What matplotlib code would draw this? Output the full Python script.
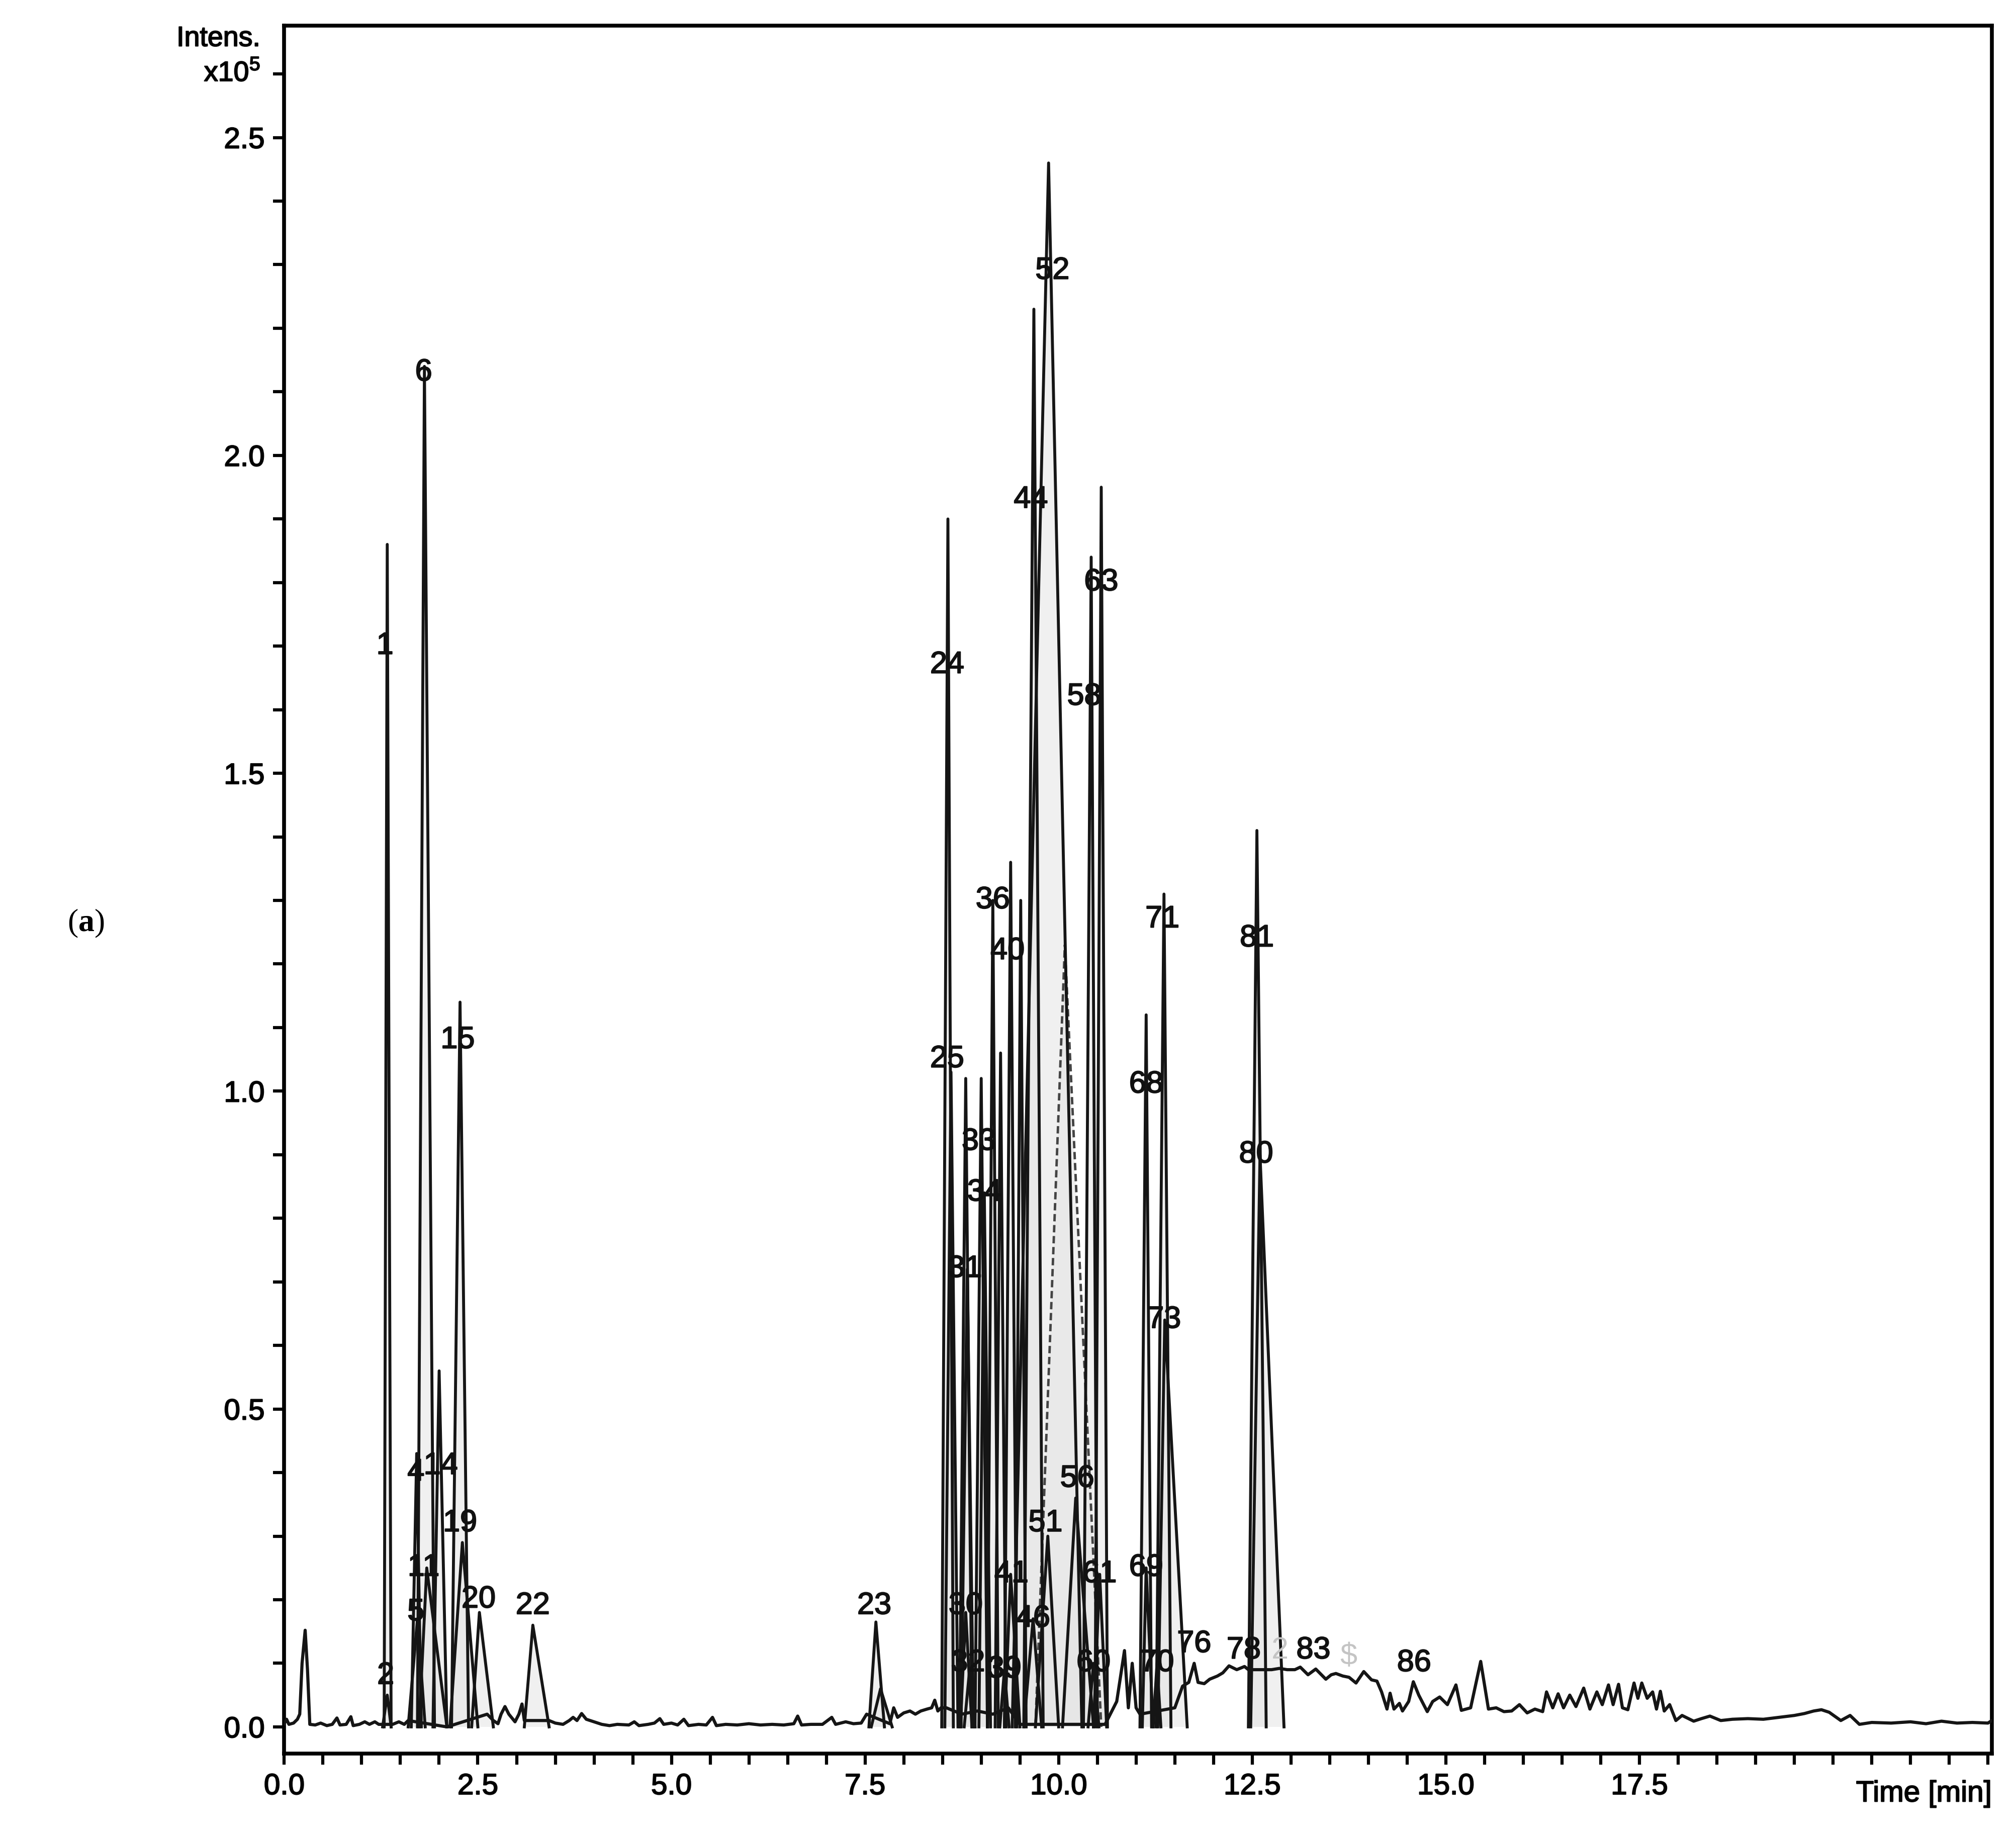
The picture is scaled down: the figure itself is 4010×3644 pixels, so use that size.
import matplotlib
matplotlib.use("Agg")
import matplotlib.pyplot as plt
from matplotlib.ticker import MultipleLocator, FuncFormatter
import matplotlib.transforms as mtransforms
import matplotlib.patheffects as pe

plt.rcParams['font.family'] = ['Liberation Sans', 'DejaVu Sans']
plt.rcParams['mathtext.fontset'] = 'custom'
plt.rcParams['mathtext.rm'] = 'Liberation Sans'
plt.rcParams['mathtext.bf'] = 'Liberation Serif:bold'

# base chromatogram trace (time in min, intensity x10^5)
trace_t = [0.00, 0.03, 0.06, 0.12, 0.17, 0.20, 0.23, 0.27, 0.30, 0.33, 0.40, 0.47,
           0.55, 0.62, 0.68, 0.72, 0.80, 0.86, 0.89, 0.97, 1.04, 1.10, 1.17, 1.22,
           1.26, 1.40, 1.48, 1.55, 1.60, 2.10, 2.62, 2.70, 2.76, 2.80, 2.85, 2.90,
           2.98, 3.03, 3.07, 3.10, 3.42, 3.50, 3.60, 3.68, 3.73, 3.78, 3.84, 3.90,
           4.00, 4.10, 4.20, 4.30, 4.45, 4.52, 4.58, 4.70, 4.78, 4.85, 4.90, 5.00,
           5.08, 5.16, 5.22, 5.35, 5.45, 5.53, 5.58, 5.70, 5.85, 6.00, 6.15, 6.30,
           6.45, 6.58, 6.63, 6.68, 6.80, 6.95, 7.07, 7.12, 7.25, 7.35, 7.45, 7.52,
           7.82, 7.87, 7.92, 8.00, 8.08, 8.15, 8.22, 8.30, 8.36, 8.40, 8.44, 8.48,
           8.55, 8.75, 8.95, 9.15, 9.35, 9.50, 10.60, 10.75, 10.85, 10.90, 10.95,
           11.00, 11.05, 11.50, 11.60, 11.68, 11.75, 11.80, 11.88, 11.95, 12.05,
           12.12, 12.20, 12.30, 12.40, 12.45, 12.75, 12.85, 12.95, 13.05, 13.12,
           13.22, 13.32, 13.45, 13.52, 13.58, 13.67, 13.75, 13.84, 13.94, 14.04,
           14.11, 14.17, 14.24, 14.28, 14.33, 14.40, 14.44, 14.52, 14.58, 14.65,
           14.76, 14.83, 14.92, 15.02, 15.13, 15.20, 15.32, 15.45, 15.55, 15.65,
           15.75, 15.85, 15.95, 16.05, 16.15, 16.25, 16.30, 16.38, 16.45, 16.52,
           16.60, 16.68, 16.78, 16.86, 16.95, 17.02, 17.10, 17.16, 17.23, 17.28,
           17.35, 17.43, 17.48, 17.53, 17.60, 17.67, 17.72, 17.77, 17.82, 17.89,
           17.97, 18.05, 18.20, 18.30, 18.41, 18.55, 18.70, 18.90, 19.10, 19.30,
           19.50, 19.63, 19.75, 19.85, 19.95, 20.10, 20.22, 20.34, 20.50, 20.75,
           21.00, 21.20, 21.40, 21.60, 21.80, 22.00, 22.05]
trace_i = [0.005, 0.012, 0.004, 0.006, 0.012, 0.020, 0.100, 0.152, 0.090, 0.004, 0.003, 0.006,
           0.002, 0.004, 0.014, 0.003, 0.004, 0.016, 0.002, 0.004, 0.008, 0.004, 0.008, 0.004,
           0.004, 0.004, 0.008, 0.004, 0.010, 0.000, 0.020, 0.010, 0.005, 0.020, 0.032, 0.020,
           0.008, 0.020, 0.036, 0.010, 0.010, 0.006, 0.004, 0.010, 0.015, 0.010, 0.021, 0.012,
           0.008, 0.004, 0.002, 0.004, 0.003, 0.008, 0.002, 0.004, 0.006, 0.013, 0.004, 0.006,
           0.003, 0.012, 0.002, 0.004, 0.003, 0.015, 0.002, 0.004, 0.003, 0.005, 0.003, 0.004,
           0.003, 0.005, 0.017, 0.003, 0.004, 0.004, 0.015, 0.004, 0.008, 0.005, 0.006, 0.020,
           0.005, 0.030, 0.015, 0.022, 0.025, 0.020, 0.025, 0.028, 0.030, 0.042, 0.025, 0.030,
           0.030, 0.020, 0.025, 0.020, 0.030, 0.004, 0.004, 0.040, 0.120, 0.030, 0.100,
           0.030, 0.020, 0.030, 0.064, 0.070, 0.100, 0.070, 0.068, 0.075, 0.080,
           0.085, 0.096, 0.090, 0.095, 0.090, 0.090, 0.092, 0.090, 0.090, 0.094,
           0.082, 0.091, 0.075, 0.082, 0.084, 0.080, 0.078, 0.069, 0.087, 0.074,
           0.072, 0.055, 0.028, 0.053, 0.028, 0.037, 0.025, 0.040, 0.071, 0.050,
           0.024, 0.040, 0.047, 0.035, 0.066, 0.026, 0.030, 0.103, 0.028, 0.030,
           0.024, 0.025, 0.035, 0.022, 0.028, 0.024, 0.055, 0.030, 0.052, 0.030,
           0.050, 0.032, 0.061, 0.028, 0.055, 0.035, 0.066, 0.035, 0.067, 0.030,
           0.027, 0.069, 0.045, 0.069, 0.045, 0.055, 0.028, 0.056, 0.025, 0.035,
           0.010, 0.018, 0.009, 0.013, 0.017, 0.010, 0.012, 0.013, 0.012, 0.015,
           0.018, 0.021, 0.025, 0.027, 0.023, 0.010, 0.018, 0.004, 0.007, 0.006,
           0.008, 0.005, 0.009, 0.006, 0.007, 0.006, 0.010]

# integrated component peaks: start, apex time, apex height, end
pk_start = [1.27, 1.29, 1.60, 1.64, 1.72, 1.74, 1.92, 2.16, 2.14, 2.42, 3.10,
            7.55, 7.58,
            8.49, 8.53, 8.73, 8.74, 8.78, 8.72, 8.92, 8.97, 9.08, 9.18, 9.24, 9.30,
            9.30, 9.44, 9.55, 9.55, 9.70, 9.40, 10.05, 10.32, 10.38, 10.45, 10.47,
            11.05, 11.08, 11.22, 11.26, 11.28, 12.45, 12.48]
pk_apex = [1.33, 1.33, 1.72, 1.71, 1.81, 1.84, 2.00, 2.27, 2.30, 2.52, 3.21,
           7.64, 7.70,
           8.57, 8.61, 8.80, 8.82, 8.85, 8.80, 9.00, 9.04, 9.15, 9.25, 9.30, 9.38,
           9.38, 9.51, 9.68, 9.67, 9.86, 9.87, 10.22, 10.42, 10.45, 10.53, 10.55,
           11.13, 11.13, 11.27, 11.36, 11.37, 12.56, 12.60]
pk_height = [0.05, 1.86, 0.17, 0.43, 2.14, 0.25, 0.56, 1.14, 0.29, 0.18, 0.16,
             0.165, 0.06,
             1.90, 1.03, 0.18, 0.72, 0.09, 1.02, 1.02, 0.84, 1.30, 1.06, 0.09, 1.36,
             0.24, 1.30, 2.23, 0.17, 0.30, 2.46, 0.36, 1.84, 0.10, 0.24, 1.95,
             1.12, 0.25, 0.10, 1.31, 0.64, 1.41, 0.90]
pk_end = [1.38, 1.38, 1.82, 1.77, 1.94, 2.10, 2.10, 2.38, 2.50, 2.70, 3.42,
          7.75, 7.85,
          8.64, 8.70, 8.88, 8.90, 8.92, 8.88, 9.08, 9.12, 9.22, 9.32, 9.36, 9.46,
          9.50, 9.58, 9.80, 9.78, 10.00, 10.30, 10.45, 10.50, 10.52, 10.62, 10.63,
          11.20, 11.22, 11.32, 11.45, 11.66, 12.68, 12.91]

# broad underlying peak near 10 min
broad_t = [9.70, 10.08, 10.55]
broad_i = [0.0, 1.23, 0.0]

# peak numbers
lab_text = ['1', '2', '4', '5', '6', '11', '14', '15', '19', '20', '22', '23',
            '24', '25', '30', '31', '32', '33', '34', '36', '39', '40', '41',
            '44', '46', '51', '52', '56', '58', '60', '61', '63', '68', '69',
            '70', '71', '73', '76', '78', '80', '81', '83', '86']
lab_t = [1.30, 1.31, 1.70, 1.70, 1.80, 1.80, 2.02, 2.24, 2.27, 2.51, 3.21, 7.62,
         8.56, 8.56, 8.80, 8.79, 8.83, 8.97, 9.04, 9.15, 9.30, 9.34, 9.39,
         9.64, 9.67, 9.83, 9.92, 10.24, 10.33, 10.45, 10.53, 10.55, 11.13, 11.13,
         11.27, 11.34, 11.36, 11.75, 12.39, 12.55, 12.56, 13.29, 14.59]
lab_i = [1.70, 0.08, 0.40, 0.18, 2.13, 0.25, 0.41, 1.08, 0.32, 0.20, 0.19, 0.19,
         1.67, 1.05, 0.19, 0.72, 0.10, 0.92, 0.84, 1.30, 0.09, 1.22, 0.24,
         1.93, 0.17, 0.32, 2.29, 0.39, 1.62, 0.10, 0.24, 1.80, 1.01, 0.25,
         0.10, 1.27, 0.64, 0.13, 0.12, 0.90, 1.24, 0.12, 0.10]

# faint partially hidden labels
faint_text = ['2', '\\$']
faint_t = [12.86, 13.74]
faint_i = [0.12, 0.11]

fig = plt.figure(figsize=(40.10, 36.44), dpi=100)
ax = fig.add_axes([0.1410, 0.0428, 0.9880 - 0.1410, 0.9860 - 0.0428])

heavy = [pe.withStroke(linewidth=1.5, foreground='#111111')]

for s, a, h, e in zip(pk_start, pk_apex, pk_height, pk_end):
    ax.fill([s, a, e], [0, h, 0], color='#e4e4e4', alpha=0.55, lw=0, zorder=1)
ax.fill(broad_t, broad_i, color='#e4e4e4', alpha=0.55, lw=0, zorder=1)
ax.plot(broad_t, broad_i, color='#444444', lw=3.5, ls=(0, (3, 1.5)), zorder=2)
for s, a, h, e in zip(pk_start, pk_apex, pk_height, pk_end):
    ax.plot([s, a, e], [0, h, 0], color='#151515', lw=4.2, zorder=3)

ax.plot(trace_t, trace_i, color='#151515', lw=4.5, zorder=4)

for txt, t, i in zip(lab_text, lab_t, lab_i):
    ax.text(t, i, txt, fontsize=44, ha='center', va='center', color='#111111',
            zorder=6, path_effects=heavy)
for txt, t, i in zip(faint_text, faint_t, faint_i):
    ax.text(t, i, txt, fontsize=44, ha='center', va='center', color='#c4c4c4', zorder=6)

ax.set_xlim(0, 22.05)
ax.set_ylim(-0.042, 2.676)

ax.xaxis.set_major_locator(MultipleLocator(2.5))
ax.xaxis.set_minor_locator(MultipleLocator(0.5))
ax.xaxis.set_major_formatter(FuncFormatter(lambda v, p: '%.1f' % v if v < 18 else ''))
ax.yaxis.set_major_locator(MultipleLocator(0.5))
ax.yaxis.set_minor_locator(MultipleLocator(0.1))
ax.yaxis.set_major_formatter(FuncFormatter(lambda v, p: '%.1f' % v))

ax.tick_params(which='both', direction='out', length=16, width=4.5, labelsize=42)
ax.tick_params(axis='x', which='both', pad=12)
ax.tick_params(axis='y', which='both', pad=12)
for lab in ax.get_xticklabels() + ax.get_yticklabels():
    lab.set_path_effects(heavy)
for sp in ax.spines.values():
    sp.set_linewidth(5.5)

trans = mtransforms.blended_transform_factory(ax.transAxes, ax.transData)
ax.text(-0.014, 2.655, 'Intens.', transform=trans, ha='right', va='center', fontsize=40,
        path_effects=heavy)
ax.text(-0.014, 2.60, 'x10$^{\\mathrm{5}}$', transform=trans, ha='right', va='center',
        fontsize=40, path_effects=heavy)

ax.text(1.0, -0.0155, 'Time [min]', transform=ax.transAxes, ha='right', va='top', fontsize=42,
        path_effects=heavy)

fig.text(0.0427, 0.496, '($\\mathbf{a}$)', family='Liberation Serif', fontsize=46,
         ha='center', va='center')

fig.savefig('out.png', dpi=100, facecolor='white')
